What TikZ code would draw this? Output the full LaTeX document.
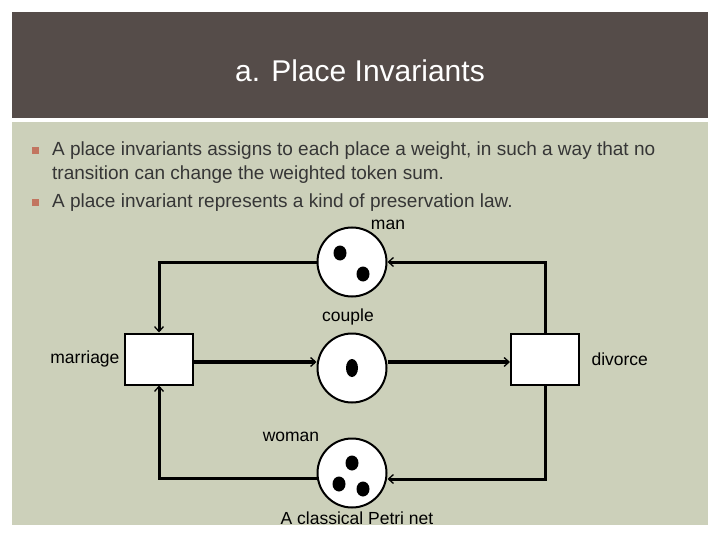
\documentclass[tikz,border=0pt]{standalone}
\usepackage{fontspec}
\setmainfont{Liberation Sans}
\usetikzlibrary{arrows.meta,positioning,calc}

\definecolor{titlebg}{HTML}{554C49}
\definecolor{panelbg}{HTML}{CCD0BA}
\definecolor{bulletred}{HTML}{C27560}
\definecolor{bodytext}{HTML}{363636}

\begin{document}
\begin{tikzpicture}[
    x=1pt, y=-1pt,
    place/.style={draw, circle, fill=white, line width=2pt, minimum size=69pt, inner sep=0pt},
    trans/.style={draw, rectangle, fill=white, line width=2pt, minimum width=68pt, minimum height=51pt},
    arc/.style={-{Straight Barb[length=5pt, width=9pt, line width=1.3pt]}, line width=3pt},
    mainarc/.style={arc, line width=4.5pt},
    lbl/.style={font=\fontsize{17.5}{20}\selectfont},
    item/.style={anchor=west, align=left, text=bodytext, font=\fontsize{19}{24}\selectfont, inner sep=0pt},
    bullet/.style={fill=bulletred, minimum size=7pt, inner sep=0pt}
]
% Slide background
\useasboundingbox[fill=white] (0,0) rectangle (720,540);
\fill[titlebg] (12,12) rectangle (708,118);
\fill[panelbg] (12,122) rectangle (708,525);
\node[text=white, font=\fontsize{30}{34}\selectfont] (title) at (360,71) {a. Place Invariants};

% Bullet points
\node[bullet] (b1) at (35,151) {};
\node[item] (t1) at (52,163) {A place invariants assigns to each place a weight, in such a way that no\\transition can change the weighted token sum.};
\node[bullet] (b2) at (35,203) {};
\node[item] (t2) at (52,203) {A place invariant represents a kind of preservation law.};

% Places and transitions
\node[place] (man) at (352,262) {};
\node[place] (couple) at (352,368) {};
\node[place] (woman) at (352,473) {};
\node[trans] (marriage) at (159,359) {};
\node[trans] (divorce) at (545,359) {};

\node[lbl] (manlbl) at (388,225) {man};
\node[lbl] (couplelbl) at (348,317) {couple};
\node[lbl] (womanlbl) at (291,437) {woman};
\node[lbl, left=1pt of marriage] (marriagelbl) {marriage};
\node[lbl, right=8pt of divorce] (divorcelbl) {divorce};
\node[lbl] (caption) at (357,518) {A classical Petri net};

% Tokens
\fill ($(man)+(-12,-9)$) ellipse (6.5pt and 7.5pt);
\fill ($(man)+(11,12)$) ellipse (6.5pt and 7.5pt);
\fill (couple) ellipse (6pt and 9pt);
\fill ($(woman)+(0,-10)$) ellipse (6.5pt and 7.5pt);
\fill ($(woman)+(-13,11)$) ellipse (6.5pt and 7.5pt);
\fill ($(woman)+(11,16)$) ellipse (6.5pt and 7.5pt);

% Arcs
\draw[mainarc] ([yshift=-3pt]marriage.east) -- ([yshift=-3pt]marriage.east -| couple.west);
\draw[mainarc] ([yshift=-3pt]divorce.west -| couple.east) -- ([yshift=-3pt]divorce.west);
\draw[arc] (man.west) -| (marriage.north);
\draw[arc] (divorce.north) |- (man.east);
\draw[arc] ([yshift=-5pt]woman.west) -| (marriage.south);
\draw[arc] (divorce.south) |- ([yshift=-6pt]woman.east);
\end{tikzpicture}
\end{document}
